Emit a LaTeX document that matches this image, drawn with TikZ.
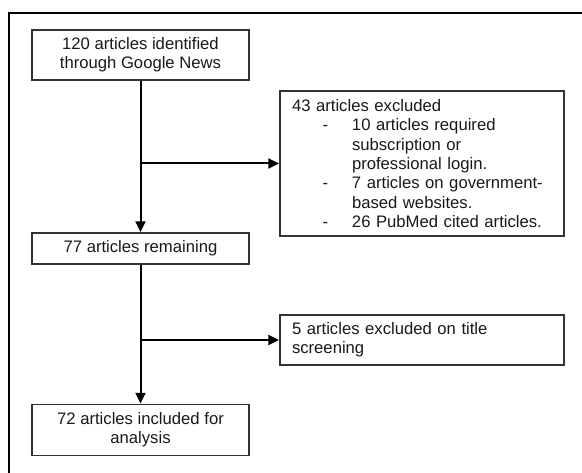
\documentclass[tikz,border=0pt]{standalone}
\usepackage{fontspec}
\setmainfont{Liberation Sans}
\usetikzlibrary{arrows.meta}
\definecolor{boxline}{HTML}{333333}
\newcommand{\itemdash}{\hspace*{23pt}\makebox[22pt][l]{-}}
\newcommand{\itemcont}{\hspace*{45pt}}
\tikzset{
  stepbox/.style={draw=boxline, line width=1.4pt, text=black!90, align=center,
    minimum width=162.75pt, inner sep=2pt,
    font=\fontsize{12.5}{14.5}\selectfont},
  notebox/.style={draw=boxline, line width=1.4pt, text=black!90, align=left,
    text width=195pt, inner xsep=9pt, inner ysep=2pt,
    font=\fontsize{12.5}{14.5}\selectfont},
  flow/.style={line width=1.5pt, -{Triangle[length=8pt,width=7.5pt]}}
}
\begin{document}
\begin{tikzpicture}[x=0.75pt, y=-0.75pt]
      \useasboundingbox (0,0) rectangle (582,473);
      \draw[line width=1.8pt] (9,473) -- (9,13) -- (582,13);
      \draw
        (140.5,55) node[stepbox, minimum height=37.5pt] (found){120 articles identified\\through Google News}
        (140.5,248.5) node[stepbox, minimum height=23.25pt] (remain){77 articles remaining}
        (140.5,430) node[stepbox, minimum height=38.25pt] (incl){72 articles included for\\analysis}
        (422,163.5) node[notebox, minimum height=108.75pt] (excl){43 articles excluded\\
          \itemdash 10 articles required\\
          \itemcont subscription or\\
          \itemcont professional login.\\
          \itemdash 7 articles on government-\\
          \itemcont based websites.\\
          \itemdash 26 PubMed cited articles.}
        (422,340) node[notebox, minimum height=37.5pt] (title){5 articles excluded on title\\screening};
      \coordinate (split1) at (found.south |- excl.west);
      \coordinate (split2) at (remain.south |- title.west);
      \begin{scope}[flow]
        \draw (found) to (remain);
        \draw (remain) to (incl);
        \draw (split1) to (excl);
        \draw (split2) to (title);
      \end{scope}
    \end{tikzpicture}
\end{document}
